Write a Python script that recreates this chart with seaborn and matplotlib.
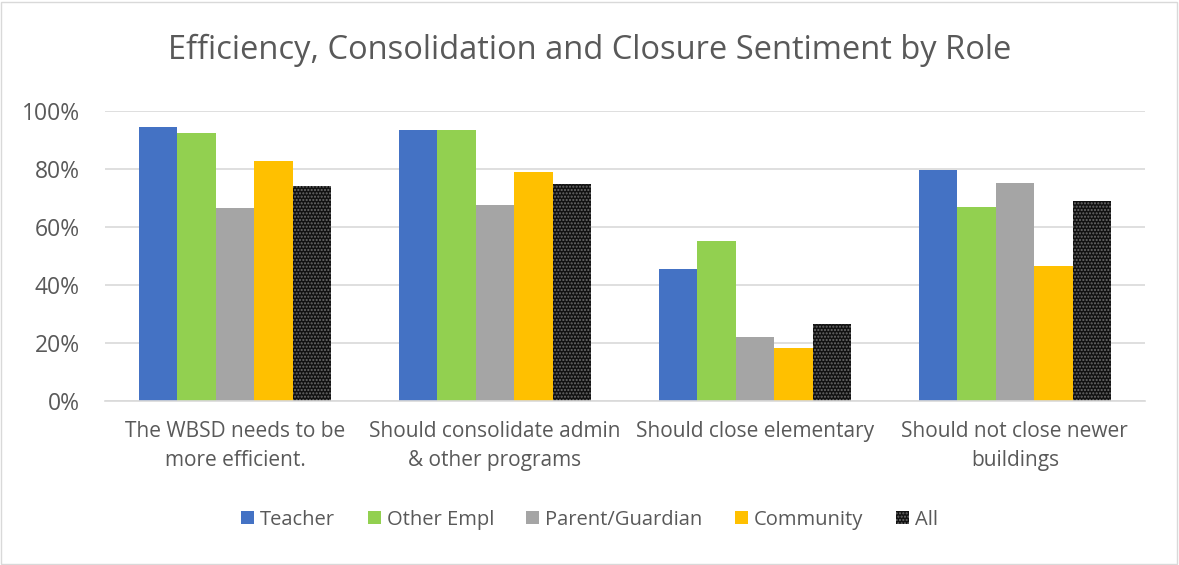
import pandas as pd
import seaborn as sns
import matplotlib.pyplot as plt
from matplotlib.patches import Rectangle
from matplotlib.ticker import PercentFormatter

questions = ["The WBSD needs to be\nmore efficient.",
             "Should consolidate admin\n& other programs",
             "Should close elementary",
             "Should not close newer\nbuildings"]
roles = ["Teacher", "Other Empl", "Parent/Guardian", "Community", "All"]
teacher = [94.6, 93.5, 45.6, 79.6]
other_empl = [92.4, 93.5, 55.3, 67.1]
parent = [66.5, 67.8, 22.0, 75.1]
community = [83.0, 79.0, 18.5, 46.6]
all_resp = [74.3, 74.8, 26.7, 68.9]
colors = ["#4472C4", "#92D050", "#A5A5A5", "#FFC000", "#111111"]

values = [teacher, other_empl, parent, community, all_resp]
rows = []
for role, vals in zip(roles, values):
    for q, v in zip(questions, vals):
        rows.append({"question": q, "role": role, "pct": v})
df = pd.DataFrame(rows)

sns.set_style("white")
plt.rcParams['font.family'] = ['Open Sans', 'DejaVu Sans']
text_color = "#595959"

fig, ax = plt.subplots(figsize=(11.79, 5.65), dpi=100)
fig.subplots_adjust(left=0.089, right=0.971, top=0.803, bottom=0.29)

sns.barplot(data=df, x="question", y="pct", hue="role", order=questions,
            hue_order=roles, palette=colors, width=0.74, gap=0,
            saturation=1, ax=ax, legend=False)

for bar in ax.patches:
    bar.set_linewidth(0)

# the "All" bars have a dotted pattern
for bar in ax.containers[4]:
    bar.set_hatch(".....")
    bar.set_edgecolor("#6b6b6b")

ax.set_ylim(0, 100)
ax.set_yticks(range(0, 101, 20))
ax.yaxis.set_major_formatter(PercentFormatter(decimals=0))
ax.grid(axis="y", color="#D9D9D9", linewidth=1.2)
ax.set_axisbelow(True)
for side in ["top", "right", "left"]:
    ax.spines[side].set_visible(False)
ax.spines["bottom"].set_color("#D9D9D9")
ax.spines["bottom"].set_linewidth(1.2)
ax.tick_params(axis="both", length=0, colors=text_color)
ax.tick_params(axis="y", labelsize=16.5, pad=18)
ax.tick_params(axis="x", labelsize=15, pad=14)
for lbl in ax.get_xticklabels():
    lbl.set_linespacing(1.5)
ax.set_xlabel("")
ax.set_ylabel("")

fig.suptitle("Efficiency, Consolidation and Closure Sentiment by Role",
             y=0.94, fontsize=23.5, color=text_color)

handles = []
for role, c in zip(roles, colors):
    h = Rectangle((0, 0), 1, 1, facecolor=c, edgecolor="#6b6b6b", linewidth=0,
                  hatch="....." if role == "All" else None)
    handles.append(h)
fig.legend(handles, roles, loc="center", bbox_to_anchor=(0.5, 0.08), ncol=5,
           frameon=False, fontsize=14.5, handlelength=0.65, handleheight=0.65,
           handletextpad=0.3, columnspacing=1.6, labelcolor=text_color)

fig.patches.append(Rectangle((0.001, 0.002), 0.997, 0.995, transform=fig.transFigure,
                             fill=False, edgecolor="#D9D9D9", linewidth=1))

fig.savefig("out.png", dpi=100)
